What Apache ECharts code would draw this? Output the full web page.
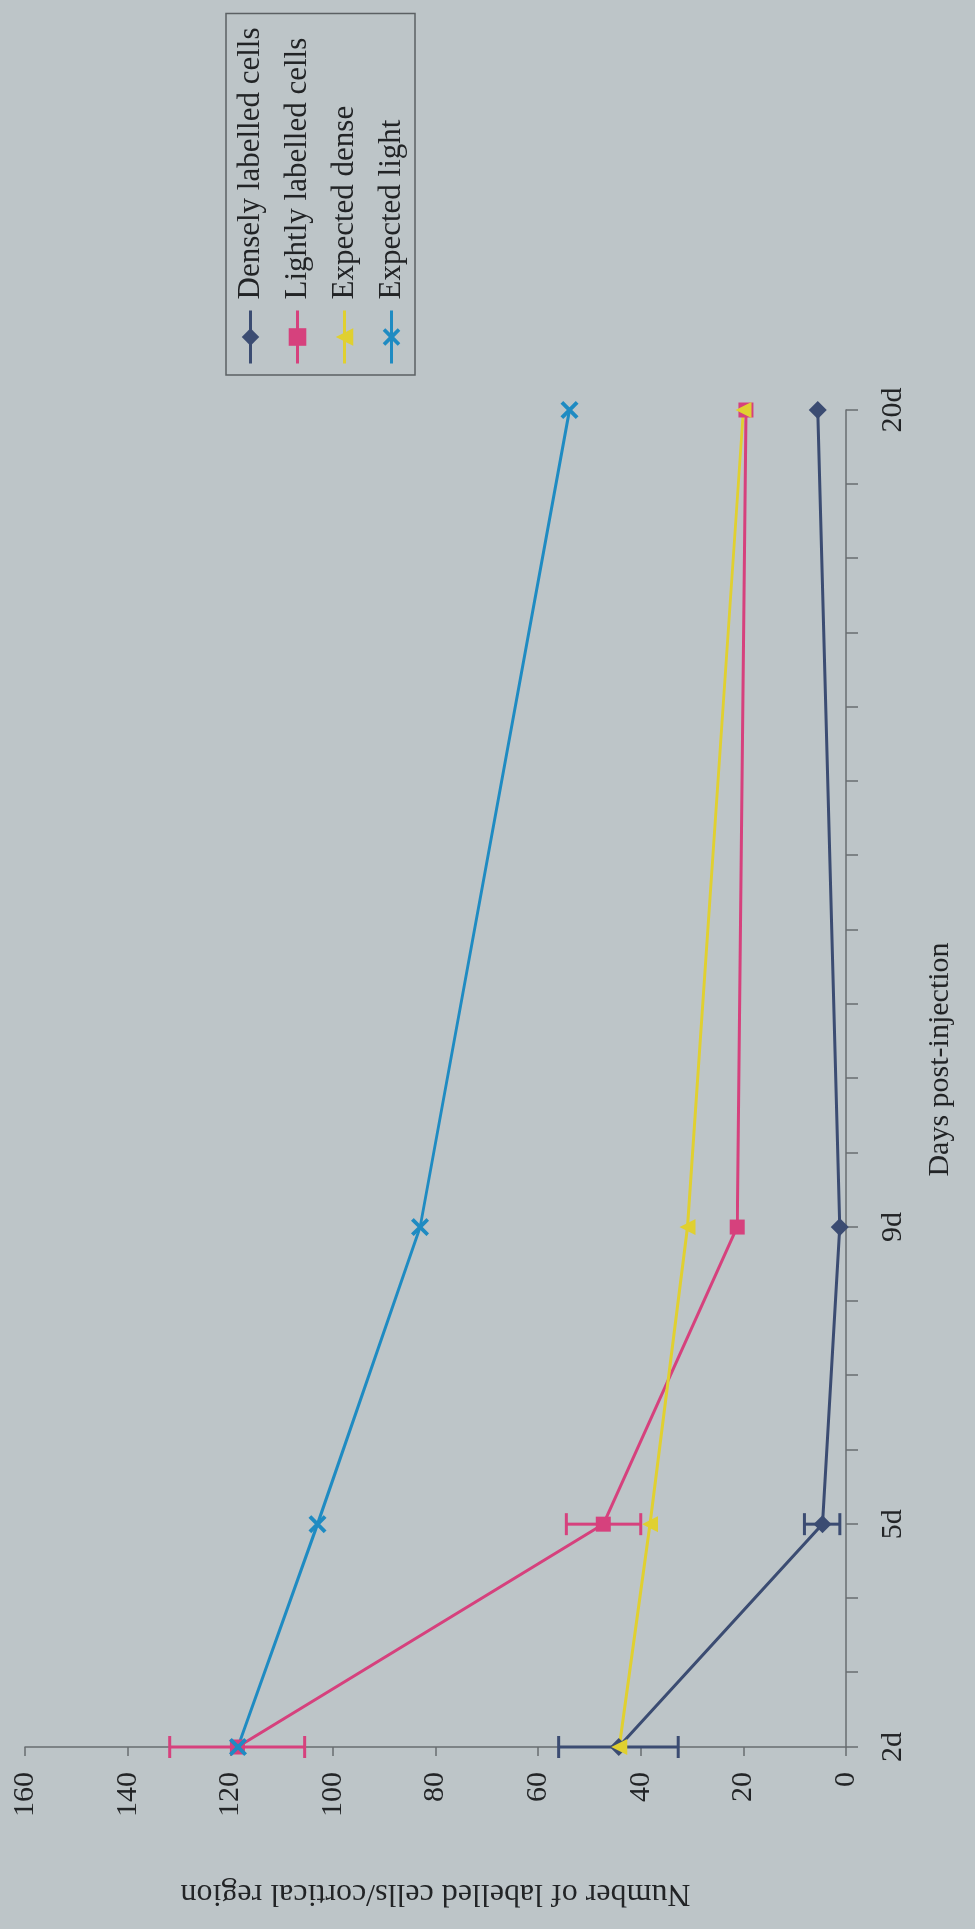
<!DOCTYPE html>
<html>
<head>
<meta charset="utf-8">
<script src="https://cdn.jsdelivr.net/npm/echarts@6/dist/echarts.min.js"></script>
<style>
  html, body { margin: 0; padding: 0; width: 975px; height: 1929px; overflow: hidden; background: #bdc5c8; }
  /* The figure is laid out landscape and turned a quarter-turn counter-clockwise onto the portrait page */
  #frame {
    position: absolute; left: 0; top: 0;
    width: 1929px; height: 975px;
    transform-origin: 0 0;
    transform: translateY(1929px) rotate(-90deg);
  }
</style>
</head>
<body>
<div id="frame"></div>
<script>
// Days post-injection at which cells were counted
const days = [2, 5, 9, 20];

// Mean number of labelled cells per cortical region
const densely = [44.3, 4.6, 1.2, 5.5];
const lightly = [118.6, 47.3, 21.2, 19.5];
const expectedDense = [44.2, 38.2, 30.9, 20.0];
const expectedLight = [118.5, 103.0, 83.0, 53.9];

// Error bars (low / high) for the measured series
const errorDays = [2, 5];
const denselyLow = [32.7, 1.2];
const denselyHigh = [56.0, 8.1];
const lightlyLow = [105.5, 40.0];
const lightlyHigh = [131.8, 54.5];

// Day-axis labels
const dayLabelValues = [2, 5, 9, 20];
const dayLabelTexts = ['2d', '5d', '9d', '20d'];

const seriesNames = ['Densely labelled cells', 'Lightly labelled cells', 'Expected dense', 'Expected light'];
const colors = ['#3b4c72', '#d6417d', '#e0d030', '#1f8bc2'];

const FONT = '"Liberation Serif", "Times New Roman", serif';
const TEXT = '#222426';
const AXIS = '#686d70';

const crossPath = 'path://M0,3 L3,0 L10,7 L17,0 L20,3 L13,10 L20,17 L17,20 L10,13 L3,20 L0,17 L7,10 Z';

const pairs = (vals) => days.map((d, i) => [d, vals[i]]);
const errPairs = (lo, hi) => errorDays.map((d, i) => [d, lo[i], hi[i]]);

function errorBars(color) {
  return function (params, api) {
    const x = api.value(0);
    const p1 = api.coord([x, api.value(1)]);
    const p2 = api.coord([x, api.value(2)]);
    const cap = 11;
    const style = { stroke: color, lineWidth: 3 };
    return {
      type: 'group',
      children: [
        { type: 'line', shape: { x1: p1[0], y1: p1[1], x2: p2[0], y2: p2[1] }, style },
        { type: 'line', shape: { x1: p1[0] - cap, y1: p1[1], x2: p1[0] + cap, y2: p1[1] }, style },
        { type: 'line', shape: { x1: p2[0] - cap, y1: p2[1], x2: p2[0] + cap, y2: p2[1] }, style }
      ]
    };
  };
}

function lineSeries(name, data, color, symbol, size) {
  return {
    name, type: 'line', data,
    symbol, symbolSize: size,
    lineStyle: { color, width: 3 },
    itemStyle: { color },
    emphasis: { disabled: true },
    animation: false
  };
}

const chart = echarts.init(document.getElementById('frame'), null, { renderer: 'canvas', width: 1929, height: 975 });

chart.setOption({
  backgroundColor: '#bdc5c8',
  animation: false,
  grid: { left: 182, right: 410, top: 25, bottom: 129, containLabel: false, outerBoundsMode: 'none' },
  xAxis: {
    type: 'value', min: 2, max: 20, interval: 1,
    name: 'Days post-injection', nameLocation: 'middle', nameGap: 79,
    nameTextStyle: { fontFamily: FONT, fontSize: 30, color: TEXT, padding: [0, 0, 0, 38] },
    axisLine: { show: true, onZero: false, lineStyle: { color: AXIS, width: 1.5 } },
    axisTick: { show: true, inside: false, length: 12, lineStyle: { color: AXIS, width: 1.5 } },
    splitLine: { show: false },
    axisLabel: {
      margin: 32, fontFamily: FONT, fontSize: 30, color: TEXT,
      showMinLabel: true, showMaxLabel: true,
      formatter: (v) => { const i = dayLabelValues.indexOf(v); return i >= 0 ? dayLabelTexts[i] : ''; }
    }
  },
  yAxis: {
    type: 'value', min: 0, max: 160, interval: 20,
    name: 'Number of labelled cells/cortical region', nameLocation: 'middle', nameGap: 130,
    nameTextStyle: { fontFamily: FONT, fontSize: 32, color: TEXT },
    axisLine: { show: true, lineStyle: { color: AXIS, width: 1.5 } },
    axisTick: { show: true, inside: false, length: 9, lineStyle: { color: AXIS, width: 1.5 } },
    splitLine: { show: false },
    axisLabel: { margin: 25, fontFamily: FONT, fontSize: 30, color: TEXT }
  },
  legend: {
    orient: 'vertical', left: 1554, top: 226,
    padding: [9, 14, 8, 10], itemGap: 16, itemWidth: 53, itemHeight: 22,
    borderColor: '#5b6063', borderWidth: 1.5,
    lineStyle: { width: 3 },
    textStyle: { fontFamily: FONT, fontSize: 31, lineHeight: 31, color: TEXT, padding: [0, 0, 0, 6] },
    data: seriesNames
  },
  series: [
    { type: 'custom', name: 'err-dense', data: errPairs(denselyLow, denselyHigh), renderItem: errorBars(colors[0]), encode: { x: 0, y: [1, 2] }, z: 1, silent: true },
    { type: 'custom', name: 'err-light', data: errPairs(lightlyLow, lightlyHigh), renderItem: errorBars(colors[1]), encode: { x: 0, y: [1, 2] }, z: 1, silent: true },
    lineSeries(seriesNames[0], pairs(densely), colors[0], 'diamond', 18),
    lineSeries(seriesNames[1], pairs(lightly), colors[1], 'rect', 15),
    lineSeries(seriesNames[2], pairs(expectedDense), colors[2], 'triangle', 16),
    lineSeries(seriesNames[3], pairs(expectedLight), colors[3], crossPath, 18)
  ]
});
</script>
</body>
</html>
